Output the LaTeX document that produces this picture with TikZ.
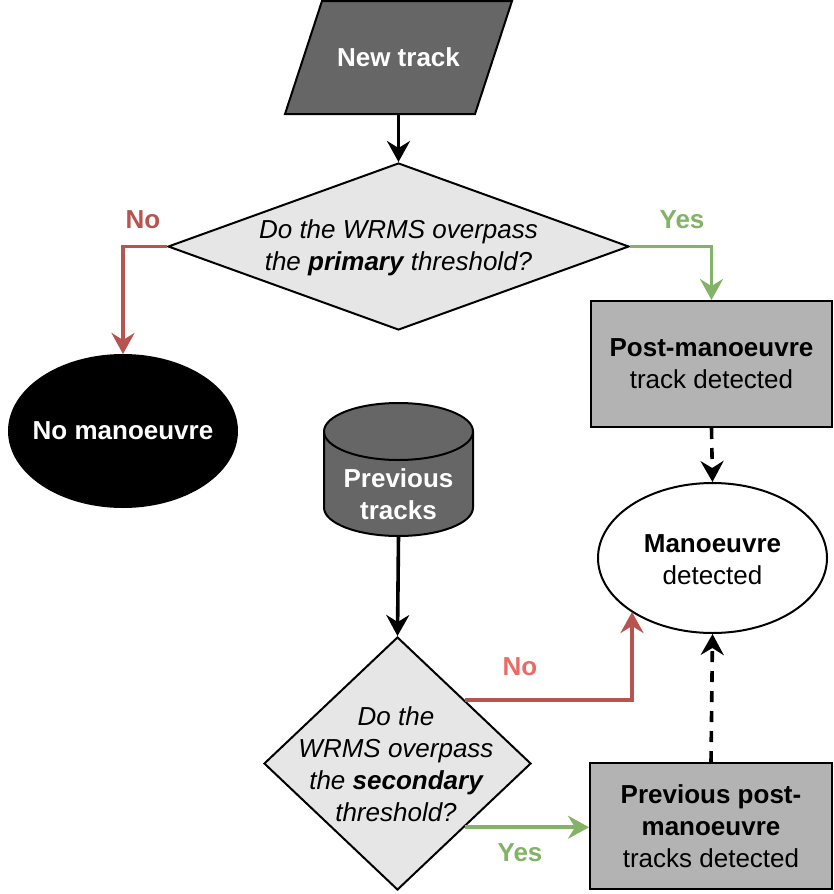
\documentclass[tikz,border=0pt]{standalone}
\usepackage{fontspec}
\setmainfont{Liberation Sans}
\usetikzlibrary{shapes.geometric,arrows.meta}
\definecolor{dk}{HTML}{666666}
\definecolor{lg}{HTML}{E6E6E6}
\definecolor{mg}{HTML}{B3B3B3}
\definecolor{rd}{HTML}{B85450}
\definecolor{rdl}{HTML}{EA6B66}
\definecolor{gr}{HTML}{82B366}
\begin{document}
\begin{tikzpicture}[x=1pt,y=-1pt,
  font=\fontsize{26}{32}\selectfont,
  shp/.style={draw=black, line width=2pt},
  txt/.style={align=center, inner sep=0pt},
  conn/.style={line width=3.6pt, -{Stealth[length=21pt,width=23pt,inset=7pt]}},
  dconn/.style={conn, dash pattern=on 11pt off 9pt},
  lbl/.style={font=\fontsize{26}{32}\selectfont\bfseries, inner sep=0pt}
]
\useasboundingbox (0,0) rectangle (833,894);

% New track (parallelogram)
\path[shp, fill=dk] (285,114) -- (475,114) -- (512,1) -- (322,1) -- cycle;
\node[txt, text=white, font=\fontsize{26}{32}\selectfont\bfseries] (nt) at (398.5,57) {New track};
\coordinate (ntB) at (398.5,114);

% Decision 1
\node[shp, diamond, aspect=2.77, fill=lg, minimum width=461pt, minimum height=167pt, inner sep=0pt, align=center] (d1) at (398.5,246.5) {};
\node[txt] (d1t) at (398.5,248) {\itshape Do the WRMS overpass\\\itshape the \textbf{primary} threshold?};

% No manoeuvre
\node[shp, ellipse, fill=black, minimum width=228pt, minimum height=152pt, inner sep=0pt] (nm) at (123,431) {};
\node[txt, text=white, font=\fontsize{26}{32}\selectfont\bfseries] (nmt) at (123,431) {No manoeuvre};

% Post-manoeuvre rectangle
\node[shp, rectangle, fill=mg, minimum width=241pt, minimum height=126pt, inner sep=0pt, align=center] (r1) at (711.5,364) {\textbf{Post-manoeuvre}\\track detected};

% Manoeuvre detected
\node[shp, ellipse, fill=white, minimum width=229pt, minimum height=150pt, inner sep=0pt] (me) at (712.5,558) {};
\node[txt] (met) at (712.5,560) {\textbf{Manoeuvre}\\detected};

% Previous tracks (cylinder)
\path[shp, fill=dk] (324,431.5) -- (324,507.5) arc[start angle=180, end angle=360, x radius=74.5pt, y radius=28.5pt]
  -- (473,431.5) arc[start angle=0, end angle=180, x radius=74.5pt, y radius=28.5pt] -- cycle;
\draw[shp] (324,431.5) arc[start angle=180, end angle=360, x radius=74.5pt, y radius=28.5pt];
\node[txt, text=white, font=\fontsize{26}{32}\selectfont\bfseries] (cyl) at (398.5,494) {Previous\\tracks};
\coordinate (cylB) at (398.5,536);

% Decision 2
\node[shp, diamond, fill=lg, minimum width=267pt, minimum height=253pt, inner sep=0pt] (d2) at (397.5,763.5) {};
\node[txt] (d2t) at (396,764) {\itshape Do the\\\itshape WRMS overpass\\\itshape the \textbf{secondary}\\\itshape threshold?};

% Previous post-manoeuvre rectangle
\node[shp, rectangle, fill=mg, minimum width=242pt, minimum height=126pt, inner sep=0pt, align=center] (r2) at (711,826) {\textbf{Previous post-}\\\textbf{manoeuvre}\\tracks detected};

% Connectors
\draw[conn] (ntB) -- (d1.north);
\draw[conn, draw=rd] (d1.west) -| (nm.north);
\draw[conn, draw=gr] (d1.east) -| (r1.north);
\draw[dconn] (r1.south) -- (me.north);
\draw[conn] (cylB) -- (d2.north);
\coordinate (meIn) at (632,612);
\draw[conn, draw=rd] (d2.north east) -| (meIn);
\draw[conn, draw=gr] (d2.south east) -- (r2.west |- d2.south east);
\draw[dconn] (r2.north) -- (me.south);

% Labels
\node[lbl, text=rd] (lno1) at (143,220) {No};
\node[lbl, text=gr] (lyes1) at (682,220) {Yes};
\node[lbl, text=rdl] (lno2) at (520,667) {No};
\node[lbl, text=gr] (lyes2) at (520,853) {Yes};
\end{tikzpicture}
\end{document}
